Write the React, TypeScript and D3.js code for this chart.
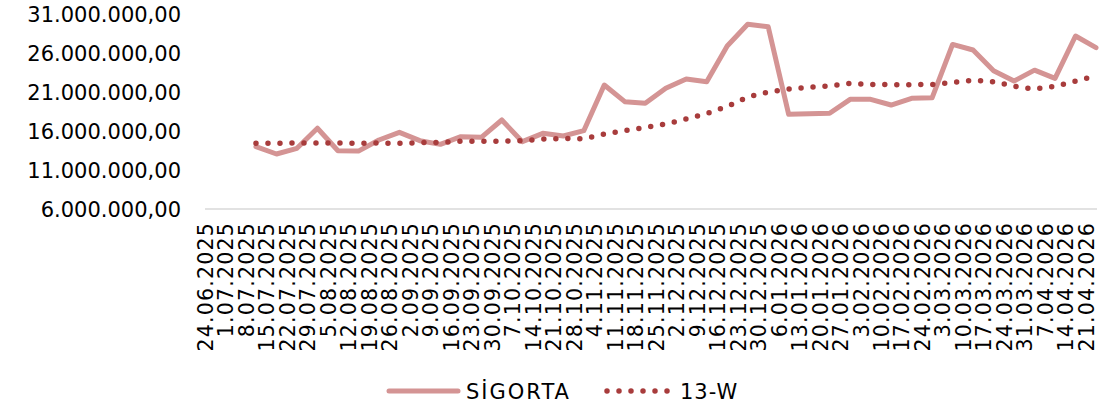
import React from "react";
import * as d3 from "d3";

const categories = [
  "24.06.2025","1.07.2025","8.07.2025","15.07.2025","22.07.2025","29.07.2025","5.08.2025","12.08.2025",
  "19.08.2025","26.08.2025","2.09.2025","9.09.2025","16.09.2025","23.09.2025","30.09.2025","7.10.2025",
  "14.10.2025","21.10.2025","28.10.2025","4.11.2025","11.11.2025","18.11.2025","25.11.2025","2.12.2025",
  "9.12.2025","16.12.2025","23.12.2025","30.12.2025","6.01.2026","13.01.2026","20.01.2026","27.01.2026",
  "3.02.2026","10.02.2026","17.02.2026","24.02.2026","3.03.2026","10.03.2026","17.03.2026","24.03.2026",
  "31.03.2026","7.04.2026","14.04.2026","21.04.2026",
];

const sigorta: (number | null)[] = [
  null, null, 14.0e6, 13.05e6, 13.78e6, 16.35e6, 13.47e6, 13.42e6,
  14.85e6, 15.83e6, 14.76e6, 14.29e6, 15.27e6, 15.19e6, 17.41e6, 14.63e6,
  15.7e6, 15.36e6, 16.04e6, 21.9e6, 19.76e6, 19.55e6, 21.47e6, 22.67e6,
  22.32e6, 26.9e6, 29.68e6, 29.37e6, 18.14e6, 18.2e6, 18.27e6, 20.06e6,
  20.06e6, 19.33e6, 20.19e6, 20.25e6, 27.1e6, 26.38e6, 23.73e6, 22.4e6,
  23.8e6, 22.75e6, 28.18e6, 26.68e6,
];

const w13: (number | null)[] = [
  null, null, 14.42e6, 14.42e6, 14.46e6, 14.46e6, 14.46e6, 14.42e6,
  14.46e6, 14.42e6, 14.5e6, 14.55e6, 14.68e6, 14.68e6, 14.68e6, 14.76e6,
  14.97e6, 15.04e6, 15.01e6, 15.6e6, 16.06e6, 16.45e6, 16.9e6, 17.54e6,
  18.24e6, 19.14e6, 20.36e6, 21.0e6, 21.38e6, 21.6e6, 21.77e6, 22.1e6,
  21.96e6, 21.94e6, 21.94e6, 21.96e6, 22.24e6, 22.5e6, 22.32e6, 21.73e6,
  21.38e6, 21.73e6, 22.4e6, 23.05e6,
];

const yTicks = [6e6, 11e6, 16e6, 21e6, 26e6, 31e6];

const seriesNames = ["SİGORTA", "13-W"];

const PINK = "#d49494";
const DARK = "#a83c3c";
const FONT = "'DejaVu Sans', sans-serif";

const locale = d3.formatLocale({
  decimal: ",",
  thousands: ".",
  grouping: [3],
  currency: ["", ""],
});
const fmt = locale.format(",.2f");

export default function App() {
  const W = 1104;
  const H = 411;
  const x = d3.scalePoint<string>().domain(categories).range([215, 1096]).padding(0);
  const y = d3.scaleLinear().domain([6e6, 31e6]).range([209, 14]);

  const line = d3
    .line<number | null>()
    .defined((d) => d != null)
    .x((_, i) => x(categories[i]) as number)
    .y((d) => y(d as number));

  return (
    <svg
      width={W}
      height={H}
      style={{ position: "absolute", left: 0, top: 0, background: "#fff" }}
      fontFamily={FONT}
    >
      {yTicks.map((t) => (
        <text
          key={t}
          x={181}
          y={y(t)}
          dy="0.36em"
          textAnchor="end"
          fontSize={21}
          fill="#000"
        >
          {fmt(t)}
        </text>
      ))}
      <line x1={205} x2={1097} y1={y(6e6)} y2={y(6e6)} stroke="#d9d9d9" strokeWidth={1.5} />
      {categories.map((c) => {
        const cx = (x(c) as number) - 9.5;
        return (
          <text
            key={c}
            transform={`translate(${cx},222) rotate(-90)`}
            dy="0.36em"
            textAnchor="end"
            fontSize={20.5}
            letterSpacing={1.2}
            fill="#000"
          >
            {c}
          </text>
        );
      })}
      <path
        d={line(sigorta) || ""}
        fill="none"
        stroke={PINK}
        strokeWidth={5}
        strokeLinejoin="round"
        strokeLinecap="round"
      />
      <path
        d={line(w13) || ""}
        fill="none"
        stroke={DARK}
        strokeWidth={5.5}
        strokeDasharray="0 12"
        strokeLinecap="round"
      />
      <line x1={389} x2={458} y1={391} y2={391} stroke={PINK} strokeWidth={5} strokeLinecap="round" />
      <text x={466} y={391} dy="0.36em" fontSize={21} letterSpacing={2} fill="#000">
        {seriesNames[0]}
      </text>
      <line
        x1={607}
        x2={668}
        y1={391}
        y2={391}
        stroke={DARK}
        strokeWidth={5.5}
        strokeDasharray="0 12"
        strokeLinecap="round"
      />
      <text x={680} y={391} dy="0.36em" fontSize={21} letterSpacing={1} fill="#000">
        {seriesNames[1]}
      </text>
    </svg>
  );
}
